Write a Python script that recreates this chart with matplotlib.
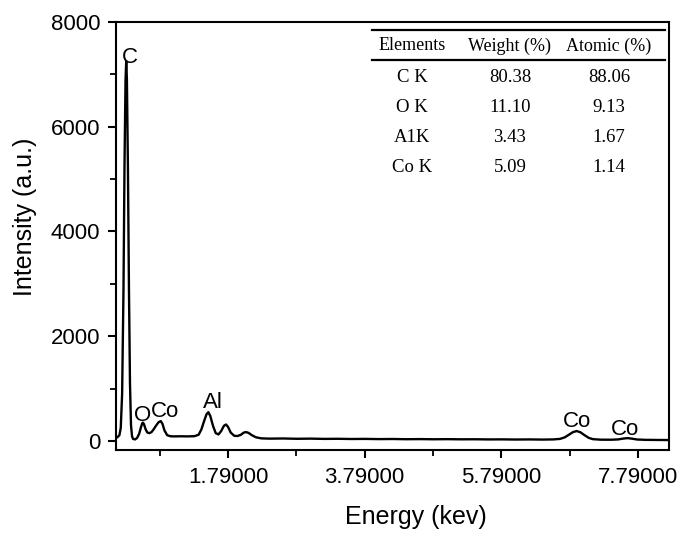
import matplotlib
matplotlib.use("Agg")
import matplotlib.pyplot as plt
from matplotlib.lines import Line2D
from matplotlib.ticker import FixedLocator, FormatStrFormatter

# ---- data ----
energy = [0.143, 0.17, 0.20, 0.22, 0.24, 0.26, 0.275, 0.29, 0.30, 0.31, 0.325, 0.34,
          0.355, 0.37, 0.385, 0.40, 0.43, 0.46, 0.49, 0.515, 0.535, 0.546, 0.56, 0.585,
          0.61, 0.64, 0.67, 0.70, 0.74, 0.775, 0.805, 0.83, 0.86, 0.90, 0.95, 1.0, 1.1,
          1.2, 1.3, 1.36, 1.40, 1.44, 1.475, 1.502, 1.53, 1.57, 1.61, 1.65, 1.69, 1.73,
          1.761, 1.79, 1.83, 1.88, 1.93, 1.98, 2.02, 2.054, 2.09, 2.14, 2.20, 2.28, 2.4,
          2.6, 2.8, 3.0, 3.2, 3.4, 3.6, 3.8, 4.0, 4.2, 4.4, 4.6, 4.8, 5.0, 5.2, 5.4, 5.6,
          5.8, 6.0, 6.2, 6.4, 6.55, 6.65, 6.72, 6.78, 6.84, 6.895, 6.95, 7.01, 7.07,
          7.13, 7.25, 7.4, 7.5, 7.57, 7.637, 7.70, 7.78, 7.9, 8.05, 8.245]
intensity = [60, 70, 110, 250, 900, 2900, 5300, 6900, 7250, 6900, 5200, 2900,
             1100, 300, 90, 40, 30, 60, 140, 260, 340, 350, 320, 220,
             160, 150, 170, 220, 300, 360, 380, 330, 200, 110, 90, 88, 90,
             88, 92, 120, 220, 380, 510, 550, 480, 290, 150, 125, 190, 290,
             315, 270, 160, 100, 95, 120, 160, 170, 155, 110, 70, 50, 45,
             48, 42, 45, 40, 42, 38, 40, 36, 38, 34, 36, 33, 35, 32, 33, 30,
             31, 28, 30, 27, 30, 40, 70, 120, 170, 190, 165, 110, 60,
             35, 25, 24, 30, 45, 55, 45, 28, 22, 20, 18]

peak_labels = ["C", "O", "Co", "Al", "Co", "Co"]
peak_label_x = [0.348, 0.546, 0.868, 1.57, 6.90, 7.60]
peak_label_y = [7325, 487, 563, 735, 372, 220]

x_major = [1.79, 3.79, 5.79, 7.79]
x_minor = [0.79, 2.79, 4.79, 6.79]
y_major = [0, 2000, 4000, 6000, 8000]
y_minor = [1000, 3000, 5000, 7000]

table_header = ["Elements", "Weight (%)", "Atomic (%)"]
table_elements = ["C K", "O K", "A1K", "Co K"]
table_weight = ["80.38", "11.10", "3.43", "5.09"]
table_atomic = ["88.06", "9.13", "1.67", "1.14"]

# ---- figure ----
W, H = 679, 535
fig = plt.figure(figsize=(W / 100, H / 100), dpi=100)
L, R, T, B = 115.5, 669, 22, 450
ax = fig.add_axes([L / W, 1 - B / H, (R - L) / W, (B - T) / H])

ax.plot(energy, intensity, color="black", lw=1.7)
ax.set_xlim(0.143, 8.245)
ax.set_ylim(-172, 8000)

ax.xaxis.set_major_locator(FixedLocator(x_major))
ax.xaxis.set_minor_locator(FixedLocator(x_minor))
ax.xaxis.set_major_formatter(FormatStrFormatter("%.5f"))
ax.yaxis.set_major_locator(FixedLocator(y_major))
ax.yaxis.set_minor_locator(FixedLocator(y_minor))

font = "Liberation Sans"
for s in ax.spines.values():
    s.set_linewidth(1.5)
ax.tick_params(which="major", direction="out", length=6, width=1.5,
               labelsize=16, pad=5)
ax.tick_params(which="minor", direction="out", length=4, width=1.3)
for lab in ax.get_xticklabels() + ax.get_yticklabels():
    lab.set_fontfamily(font)
ax.tick_params(axis="x", which="major", pad=6)

ax.set_xlabel("Energy (kev)", fontsize=18, fontfamily=font)
ax.set_ylabel("Intensity (a.u.)", fontsize=18, fontfamily=font)
ax.xaxis.set_label_coords((416 - L) / (R - L), (B - 505) / (B - T))
ax.yaxis.set_label_coords((37 - L) / (R - L), (B - 217) / (B - T))

for t, x, y in zip(peak_labels, peak_label_x, peak_label_y):
    ax.text(x, y, t, fontsize=16, fontfamily=font, ha="center", va="center")

# ---- inset table ----
def fx(px):
    return px / W

def fy(py):
    return 1 - py / H

for py in (29.5, 60):
    fig.add_artist(Line2D([fx(372), fx(665)], [fy(py), fy(py)],
                          color="black", lw=1.6, transform=fig.transFigure))

col_x = [412, 510, 609]
serif = "Liberation Serif"
for cx, h in zip(col_x, table_header):
    fig.text(fx(cx), fy(46), h, fontsize=13, fontfamily=serif,
             ha="center", va="center")
row_y = [78, 107, 137, 167]
for ry, e, w, a in zip(row_y, table_elements, table_weight, table_atomic):
    for cx, t in zip(col_x, (e, w, a)):
        fig.text(fx(cx), fy(ry), t, fontsize=13.5, fontfamily=serif,
                 ha="center", va="center")

fig.savefig("out.png", dpi=100)
